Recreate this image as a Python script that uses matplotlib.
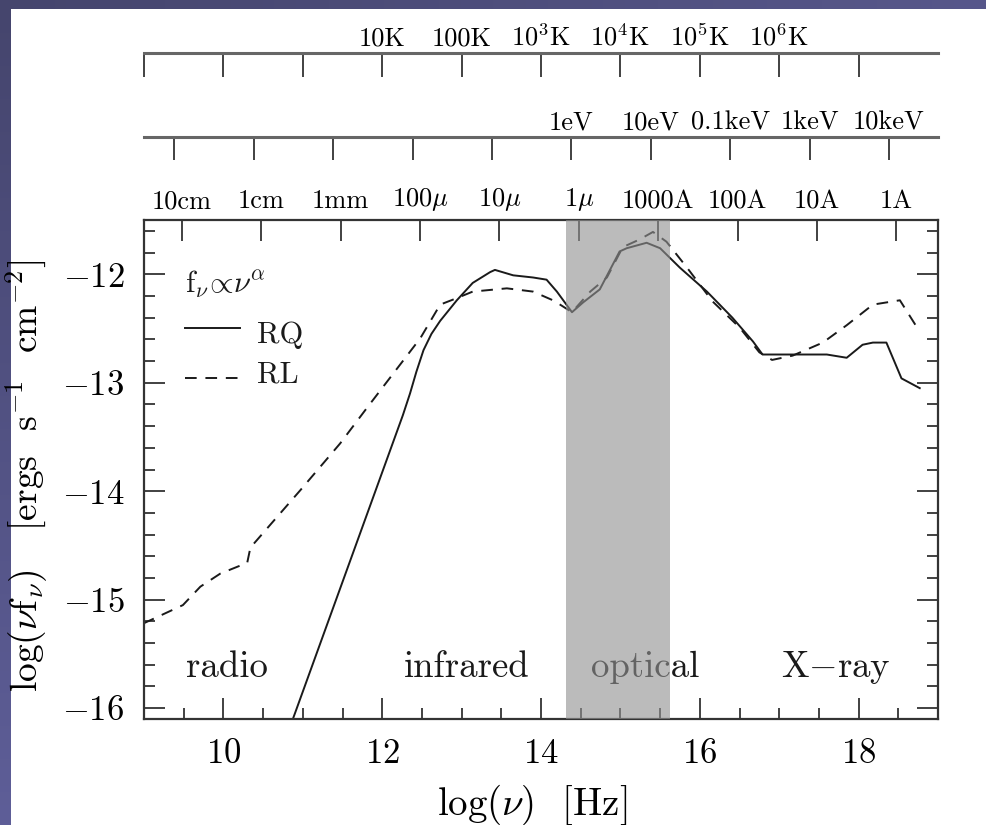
import numpy as np
import matplotlib
matplotlib.use('Agg')
import matplotlib.pyplot as plt
from matplotlib.ticker import MultipleLocator, NullLocator

plt.rcParams['font.family'] = 'serif'
plt.rcParams['font.serif'] = ['cmr10', 'DejaVu Serif']
plt.rcParams['mathtext.fontset'] = 'cm'
plt.rcParams['axes.formatter.use_mathtext'] = True

# --- data ---
rq_lognu = [10.85, 10.90, 12.26, 12.35, 12.43, 12.52, 12.62, 12.73, 12.94, 13.14,
            13.36, 13.42, 13.65, 13.90, 14.07, 14.20, 14.39, 14.53, 14.74, 14.99,
            15.08, 15.33, 15.50, 15.75, 16.09, 16.41, 16.67, 16.79, 17.60, 17.85,
            18.05, 18.18, 18.35, 18.54, 18.77]
rq_lognufnu = [-16.15, -16.05, -13.30, -13.10, -12.90, -12.70, -12.55, -12.43, -12.24, -12.08,
               -11.98, -11.96, -12.01, -12.03, -12.05, -12.16, -12.35, -12.26, -12.14, -11.79,
               -11.76, -11.71, -11.76, -11.94, -12.16, -12.40, -12.62, -12.74, -12.74, -12.77,
               -12.65, -12.63, -12.63, -12.96, -13.05]

rl_lognu = [8.99, 9.49, 9.71, 9.96, 10.30, 10.34, 10.97, 11.47, 11.81, 12.48,
            12.73, 12.94, 13.14, 13.57, 13.90, 14.15, 14.24, 14.39, 14.62, 14.83,
            15.03, 15.24, 15.41, 15.58, 15.84, 16.16, 16.50, 16.75, 16.91, 17.17,
            17.55, 17.85, 18.18, 18.52, 18.77]
rl_lognufnu = [-15.22, -15.05, -14.88, -14.76, -14.66, -14.52, -13.99, -13.56, -13.23, -12.59,
               -12.28, -12.22, -12.16, -12.13, -12.16, -12.24, -12.28, -12.35, -12.16, -12.03,
               -11.75, -11.68, -11.61, -11.70, -11.94, -12.25, -12.49, -12.72, -12.79, -12.75,
               -12.63, -12.47, -12.28, -12.24, -12.53]

optical_band = (14.31, 15.63)

region_names = ['radio', 'infrared', 'optical', 'X$-$ray']
region_x = [10.04, 13.07, 15.31, 17.72]

temp_ticks = [9, 10, 11, 12, 13, 14, 15, 16, 17, 18]
temp_labels = ['', '', '', '10K', '100K', r'10$^3$K', r'10$^4$K', r'10$^5$K', r'10$^6$K', '']

energy_ticks = [9.383, 10.383, 11.383, 12.383, 13.383, 14.383, 15.383, 16.383, 17.383, 18.383]
energy_labels = ['', '', '', '', '', '1eV', '10eV', '0.1keV', '1keV', '10keV']

wave_ticks = [9.477, 10.477, 11.477, 12.477, 13.477, 14.477, 15.477, 16.477, 17.477, 18.477]
wave_labels = ['10cm', '1cm', '1mm', r'100$\mu$', r'10$\mu$', r'1$\mu$',
               '1000A', '100A', '10A', '1A']

W, H = 987, 825
fig = plt.figure(figsize=(W / 100, H / 100), dpi=100)
fig.patch.set_facecolor('white')

# slide background: purple strips on the left and top
bg = fig.add_axes([0, 0, 1, 1], zorder=-10)
img = np.ones((H, W, 3))
top_grad = np.linspace(0, 1, W)[None, :, None]
c0 = np.array([0x45, 0x45, 0x6d]) / 255
c1 = np.array([0x57, 0x57, 0x8b]) / 255
c2 = np.array([0x5e, 0x5e, 0x98]) / 255
img[:9, :, :] = c0 + (c1 - c0) * top_grad
left_grad = np.linspace(0, 1, H)[:, None, None]
img[:, :11, :] = c0 + (c2 - c0) * left_grad
bg.imshow(img, aspect='auto', interpolation='nearest')
bg.axis('off')

def px(x0, y0, x1, y1):
    return [x0 / W, 1 - y1 / H, (x1 - x0) / W, (y1 - y0) / H]

ink = '#1a1a1a'
frame = '#333333'

# main axes
ax = fig.add_axes(px(144, 220, 938, 719))
ax.set_xlim(9, 19)
ax.set_ylim(-16.1, -11.5)

ax.plot(rq_lognu, rq_lognufnu, color=ink, lw=1.4)
line_rl, = ax.plot(rl_lognu, rl_lognufnu, color=ink, lw=1.4)
line_rl.set_dashes((6.0, 4.5))

for name, xr in zip(region_names, region_x):
    ax.text(xr, -15.71, name, ha='center', va='baseline', fontsize=26.5, color=ink)

# legend drawn by hand like the original
ax.text(9.52, -12.17, r'$\mathrm{f}_\nu\!\propto\!\nu^\alpha$', fontsize=22,
        va='baseline', color=ink)
ax.plot([9.52, 10.21], [-12.50, -12.50], color=ink, lw=1.4)
leg_rl, = ax.plot([9.52, 10.21], [-12.96, -12.96], color=ink, lw=1.4)
leg_rl.set_dashes((6.0, 4.5))
ax.text(10.42, -12.63, 'RQ', fontsize=22, va='baseline', color=ink)
ax.text(10.42, -13.00, 'RL', fontsize=22, va='baseline', color=ink)

ax.xaxis.set_major_locator(MultipleLocator(2))
ax.xaxis.set_minor_locator(MultipleLocator(0.5))
ax.yaxis.set_major_locator(MultipleLocator(1))
ax.yaxis.set_minor_locator(MultipleLocator(0.2))
ax.tick_params(axis='both', which='both', direction='in', color=frame)
ax.tick_params(axis='x', which='both', top=False)
ax.tick_params(axis='y', which='both', left=True, right=True)
ax.tick_params(which='major', length=15, width=1.3, labelsize=25, pad=14)
ax.tick_params(which='minor', length=8, width=1.3)
for s in ax.spines.values():
    s.set_linewidth(1.6)
    s.set_color(frame)

ax.set_xlabel(r'$\mathrm{log}(\nu)$  [Hz]', fontsize=28)
ax.xaxis.set_label_coords(0.489, -0.127)
ax.set_ylabel(r'$\mathrm{log}(\nu\mathrm{f}_\nu)$   [ergs  s$^{-1}$  cm$^{-2}$]',
              fontsize=27)
ax.yaxis.set_label_coords(-0.118, 0.487)

# wavelength ticks along the top of the frame
axw = ax.twiny()
axw.set_xlim(9, 19)
axw.set_xticks(wave_ticks, wave_labels)
axw.xaxis.set_minor_locator(NullLocator())
axw.tick_params(axis='x', direction='in', length=15, width=1.3, color=frame,
                labelsize=19, pad=5)
for s in axw.spines.values():
    s.set_visible(False)

# optical band drawn over everything in the frame
axw.axvspan(optical_band[0], optical_band[1], color='#919191', alpha=0.62,
            lw=0, zorder=10)

# energy and temperature scales above the plot
def top_scale(y_line, ticks, labels, tick_len):
    a = fig.add_axes(px(144, y_line, 938, y_line + 0.01))
    a.set_xlim(9, 19)
    a.patch.set_visible(False)
    for side in ['left', 'right', 'bottom']:
        a.spines[side].set_visible(False)
    a.spines['top'].set_linewidth(2.2)
    a.spines['top'].set_color('#666666')
    a.set_yticks([])
    a.set_xticks(ticks, labels)
    a.xaxis.set_minor_locator(NullLocator())
    a.tick_params(axis='x', top=True, bottom=False, labeltop=True, labelbottom=False,
                  direction='in', length=tick_len, width=1.3, color=frame,
                  labelsize=19, pad=2)
    return a

top_scale(137, energy_ticks, energy_labels, 16.5)
top_scale(53, temp_ticks, temp_labels, 17)

fig.savefig('out.png', dpi=100)
